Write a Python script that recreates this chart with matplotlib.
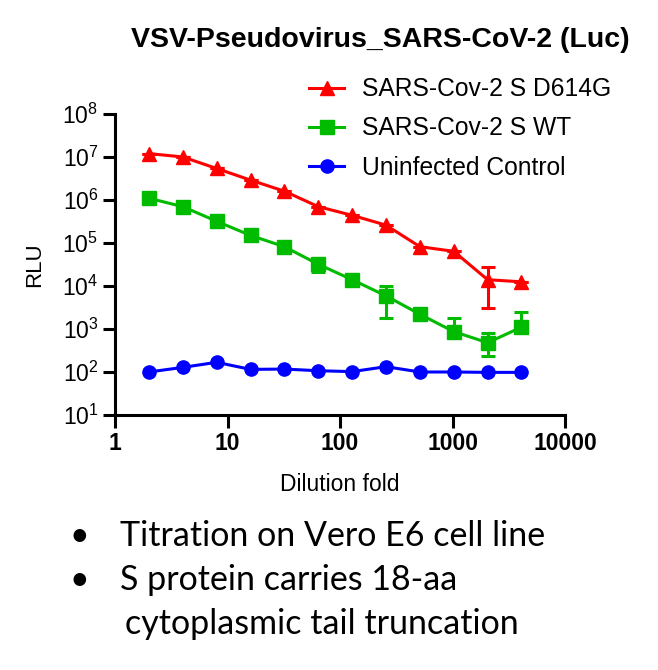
import matplotlib
matplotlib.use("Agg")
import matplotlib.pyplot as plt
from matplotlib.lines import Line2D
import numpy as np

dilution = [2, 4, 8, 16, 32, 64, 128, 256, 512, 1024, 2048, 4096]

d614g = [1.2e7, 1.0e7, 5.4e6, 2.9e6, 1.6e6, 7.0e5, 4.4e5, 2.6e5, 8.2e4, 6.4e4, 1.4e4, 1.25e4]
d614g_lo = [1.2e7, 1.0e7, 5.4e6, 2.9e6, 1.6e6, 7.0e5, 4.4e5, 2.6e5, 8.2e4, 6.4e4, 3.0e3, 1.25e4]
d614g_hi = [1.2e7, 1.0e7, 5.4e6, 2.9e6, 1.6e6, 7.0e5, 4.4e5, 2.6e5, 8.2e4, 6.4e4, 2.8e4, 1.25e4]

wt = [1.1e6, 7.0e5, 3.2e5, 1.5e5, 8.2e4, 3.2e4, 1.4e4, 5.9e3, 2.2e3, 8.7e2, 4.8e2, 1.1e3]
wt_lo = [1.1e6, 7.0e5, 3.2e5, 1.5e5, 8.2e4, 2.1e4, 1.4e4, 1.8e3, 2.2e3, 8.0e2, 2.4e2, 1.0e3]
wt_hi = [1.1e6, 7.0e5, 3.2e5, 1.5e5, 8.2e4, 4.0e4, 1.4e4, 1.0e4, 2.2e3, 1.8e3, 8.0e2, 2.5e3]

ctrl = [100, 128, 168, 115, 117, 107, 102, 133, 100, 100, 98, 98]

labels = ["SARS-Cov-2 S D614G", "SARS-Cov-2 S WT", "Uninfected Control"]
title = "VSV-Pseudovirus_SARS-CoV-2 (Luc)"
bullets = ["Titration on Vero E6 cell line", "S protein carries 18-aa"]
bullet_cont = "cytoplasmic tail truncation"

plt.rcParams['font.family'] = ['Liberation Sans', 'DejaVu Sans']
plt.rcParams['mathtext.fontset'] = 'custom'
plt.rcParams['mathtext.rm'] = 'Liberation Sans'
plt.rcParams['mathtext.it'] = 'Liberation Sans'
plt.rcParams['mathtext.bf'] = 'Liberation Sans:bold'

fig = plt.figure(figsize=(6.58, 6.70), dpi=100)
ax = fig.add_axes([0.1748, 0.3806, 0.684, 0.4493])

lw = 2.2
red, green, blue = '#FF0000', '#00BB00', '#0000FF'

def yerr(y, lo, hi):
    y = np.array(y); lo = np.array(lo); hi = np.array(hi)
    return [y - lo, hi - y]

ax.errorbar(dilution, d614g, yerr=yerr(d614g, d614g_lo, d614g_hi), color=red,
            marker='^', ms=10.5, lw=lw, capsize=5, capthick=lw, elinewidth=lw)
ax.errorbar(dilution, wt, yerr=yerr(wt, wt_lo, wt_hi), color=green,
            marker='s', ms=9.5, lw=lw, capsize=5, capthick=lw, elinewidth=lw)
ax.plot(dilution, ctrl, color=blue, marker='o', ms=9.5, lw=lw)

ax.set_xscale('log')
ax.set_yscale('log')
ax.set_xlim(1, 10000)
ax.set_ylim(10, 1e8)
ax.set_xticks([1, 10, 100, 1000, 10000])
ax.set_xticklabels(['1', '10', '100', '1000', '10000'], fontweight='bold', fontsize=16.5)
ax.set_yticks([10**k for k in range(1, 9)])
ax.set_yticklabels([f'$10^{{{k}}}$' for k in range(1, 9)], fontsize=16.5)
ax.xaxis.set_minor_locator(matplotlib.ticker.NullLocator())
ax.yaxis.set_minor_locator(matplotlib.ticker.NullLocator())
for s in ['top', 'right']:
    ax.spines[s].set_visible(False)
for s in ['left', 'bottom']:
    ax.spines[s].set_linewidth(2.2)
ax.tick_params(axis='both', width=2.2, length=9, direction='out', pad=3)

ax.set_ylabel('RLU', fontsize=16, labelpad=12)
ax.set_xlabel('Dilution fold', fontsize=16.5, labelpad=13)

fig.text(0.578, 0.94, title, ha='center', va='center', fontsize=20.5, fontweight='bold')

handles = [Line2D([], [], color=red, marker='^', ms=10.5, lw=lw),
           Line2D([], [], color=green, marker='s', ms=9.5, lw=lw),
           Line2D([], [], color=blue, marker='o', ms=9.5, lw=lw)]
ax.legend(handles, labels, loc='upper left', bbox_to_anchor=(0.41, 1.155), frameon=False,
          fontsize=17.7, handlelength=1.4, handletextpad=0.75, labelspacing=0.62, borderaxespad=0)

bfam = ['Lato', 'DejaVu Sans']
fig.text(0.105, 0.200, '•', fontsize=24.5, family=bfam, va='center')
fig.text(0.183, 0.200, bullets[0], fontsize=24.5, family=bfam, va='center')
fig.text(0.105, 0.134, '•', fontsize=24.5, family=bfam, va='center')
fig.text(0.183, 0.134, bullets[1], fontsize=24.5, family=bfam, va='center')
fig.text(0.190, 0.068, bullet_cont, fontsize=24.5, family=bfam, va='center')

fig.savefig('out.png', dpi=100)
